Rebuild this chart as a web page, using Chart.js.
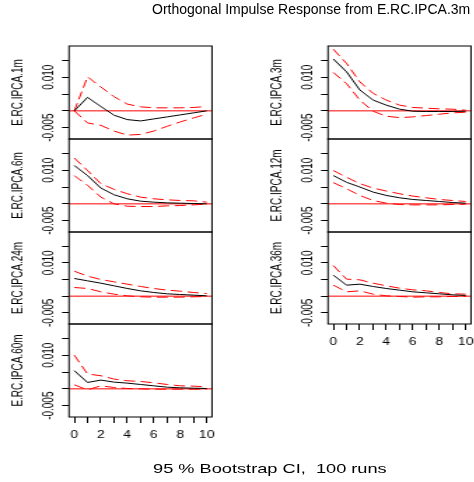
<!DOCTYPE html>
<html><head><meta charset="utf-8">
<script src="https://cdn.jsdelivr.net/npm/chart.js@4/dist/chart.umd.min.js"></script>
<style>
html,body{margin:0;padding:0;background:#fff;width:474px;height:482px;overflow:hidden;}
#stage{position:absolute;left:0;top:0;width:338.57px;height:482px;transform:scaleX(1.4);transform-origin:0 0;}
#stage canvas{position:absolute;}
#title{position:absolute;left:152px;top:2px;font-family:"Liberation Sans",Arial,sans-serif;font-size:14px;line-height:14px;white-space:pre;color:#000;}
#sub{position:absolute;left:109.3px;top:461.7px;font-family:"Liberation Sans",Arial,sans-serif;font-size:13px;line-height:13px;white-space:pre;color:#000;}
</style></head>
<body>
<div id="stage">
<canvas id="c1m"></canvas><canvas id="c6m"></canvas><canvas id="c24m"></canvas><canvas id="c60m"></canvas>
<canvas id="c3m"></canvas><canvas id="c12m"></canvas><canvas id="c36m"></canvas>
<div id="sub">95 % Bootstrap CI,  100 runs</div>
</div>
<div id="title">Orthogonal Impulse Response from E.RC.IPCA.3m</div>
<script>
// ---- data ----
const horizons = [0,1,2,3,4,5,6,7,8,9,10];
const xTickValues = [0,1,2,3,4,5,6,7,8,9,10];
const xTickLabels = ['0','','2','','4','','6','','8','','10'];
const yTickValues = [-0.005,0,0.005,0.010,0.015];
const yTickLabels = ['-0.005','','','0.010',''];

const irf_1m   = [0, 0.0040, 0.0013, -0.0013, -0.0026, -0.0030, -0.0024, -0.0018, -0.0012, -0.0006, 0.0000];
const upper_1m = [0, 0.0101, 0.0071, 0.0042, 0.0020, 0.0012, 0.0009, 0.0009, 0.0009, 0.0010, 0.0013];
const lower_1m = [0, -0.0036, -0.0043, -0.0060, -0.0072, -0.0070, -0.0060, -0.0046, -0.0033, -0.0021, -0.0010];

const irf_3m   = [0.0154, 0.0116, 0.0062, 0.0032, 0.0017, 0.0005, -0.0001, -0.0002, -0.0002, -0.0002, -0.0001];
const upper_3m = [0.0183, 0.0141, 0.0086, 0.0052, 0.0032, 0.0017, 0.0010, 0.0008, 0.0006, 0.0005, 0.0002];
const lower_3m = [0.0114, 0.0081, 0.0032, -0.0001, -0.0016, -0.0020, -0.0018, -0.0014, -0.0010, -0.0006, -0.0004];

const irf_6m   = [0.0114, 0.0084, 0.0047, 0.0027, 0.0015, 0.0008, 0.0005, 0.0003, 0.0002, 0.0001, 0.0000];
const upper_6m = [0.0136, 0.0099, 0.0060, 0.0043, 0.0030, 0.0020, 0.0015, 0.0012, 0.0010, 0.0009, 0.0005];
const lower_6m = [0.0084, 0.0055, 0.0020, 0.0000, -0.0007, -0.0008, -0.0008, -0.0006, -0.0005, -0.0003, -0.0001];

const irf_12m   = [0.0084, 0.0064, 0.0050, 0.0035, 0.0025, 0.0018, 0.0013, 0.0010, 0.0007, 0.0004, 0.0002];
const upper_12m = [0.0099, 0.0079, 0.0060, 0.0047, 0.0038, 0.0030, 0.0023, 0.0018, 0.0013, 0.0010, 0.0007];
const lower_12m = [0.0063, 0.0045, 0.0025, 0.0010, 0.0002, -0.0002, -0.0003, -0.0003, -0.0003, -0.0002, -0.0001];

const irf_24m   = [0.0053, 0.0046, 0.0039, 0.0031, 0.0023, 0.0016, 0.0011, 0.0007, 0.0005, 0.0003, 0.0001];
const upper_24m = [0.0075, 0.0060, 0.0050, 0.0043, 0.0036, 0.0029, 0.0023, 0.0018, 0.0015, 0.0011, 0.0008];
const lower_24m = [0.0026, 0.0023, 0.0013, 0.0006, 0.0001, -0.0002, -0.0003, -0.0003, -0.0003, -0.0002, -0.0001];

const irf_36m   = [0.0063, 0.0033, 0.0036, 0.0029, 0.0023, 0.0018, 0.0013, 0.0010, 0.0007, 0.0004, 0.0002];
const upper_36m = [0.0092, 0.0051, 0.0049, 0.0039, 0.0031, 0.0024, 0.0019, 0.0016, 0.0011, 0.0007, 0.0006];
const lower_36m = [0.0033, 0.0013, 0.0016, 0.0006, 0.0001, -0.0001, -0.0003, -0.0002, -0.0002, -0.0001, -0.0001];

const irf_60m   = [0.0054, 0.0019, 0.0026, 0.0020, 0.0017, 0.0013, 0.0009, 0.0005, 0.0003, 0.0002, 0.0001];
const upper_60m = [0.0100, 0.0044, 0.0039, 0.0029, 0.0024, 0.0022, 0.0018, 0.0013, 0.0009, 0.0008, 0.0006];
const lower_60m = [0.0012, -0.0003, 0.0009, 0.0004, 0.0001, 0.0000, -0.0001, -0.0001, -0.0001, -0.0001, -0.0001];

// ---- drawing ----
const FONT = '"Liberation Sans", Arial, sans-serif';
Chart.defaults.font.family = FONT;
Chart.defaults.color = '#000';

const framePlugin = {
  id: 'frame',
  beforeDatasetsDraw(chart) {
    const ctx = chart.ctx, a = chart.chartArea;
    const y = chart.scales.y.getPixelForValue(0);
    ctx.save();
    ctx.strokeStyle = '#ff0000'; ctx.lineWidth = 1;
    ctx.beginPath(); ctx.moveTo(a.left, y); ctx.lineTo(a.right, y); ctx.stroke();
    ctx.restore();
  },
  afterDatasetsDraw(chart) {
    const ctx = chart.ctx, a = chart.chartArea;
    ctx.save();
    ctx.strokeStyle = '#000'; ctx.lineWidth = 1;
    ctx.strokeRect(a.left, a.top, a.right - a.left, a.bottom - a.top);
    ctx.restore();
  }
};

function pts(arr) { return arr.map((v, i) => ({x: horizons[i], y: v})); }

function panel(id, name, irf, lo, hi, col, top, h, bottom) {
  const cv = document.getElementById(id);
  const left = col === 0 ? 0 : 185;
  const w = col === 0 ? 156 : 154;
  const padR = col === 0 ? 4.57 : 2.57;
  const padT = 8;
  const xH = 30;
  const ch = bottom ? h + padT + xH : h + padT * 2;
  cv.width = w; cv.height = ch;
  cv.style.left = left + 'px'; cv.style.top = (top - padT) + 'px';
  cv.style.width = w + 'px'; cv.style.height = ch + 'px';
  new Chart(cv, {
    type: 'line',
    data: {
      datasets: [
        {data: pts(irf), borderColor: '#000', borderWidth: 1, pointRadius: 0, tension: 0, order: 1},
        {data: pts(hi), borderColor: '#ff0000', borderWidth: 1, borderDash: [8, 4], pointRadius: 0, tension: 0, order: 2},
        {data: pts(lo), borderColor: '#ff0000', borderWidth: 1, borderDash: [8, 4], pointRadius: 0, tension: 0, order: 3}
      ]
    },
    options: {
      responsive: false, animation: false, devicePixelRatio: 1,
      layout: {padding: {left: 0, right: padR, top: padT, bottom: bottom ? 0 : padT}},
      plugins: {legend: {display: false}, tooltip: {enabled: false}},
      scales: {
        x: {
          type: 'linear', min: -0.4, max: 10.4, display: bottom,
          afterBuildTicks: s => { s.ticks = xTickValues.map(v => ({value: v})); },
          afterFit: s => { s.height = bottom ? xH : 0; s.paddingLeft = 0; s.paddingRight = 0; },
          ticks: {autoSkip: false, maxRotation: 0, minRotation: 0, padding: 6, font: {size: 10},
                  callback: (v) => { const k = xTickValues.indexOf(v); return k >= 0 ? xTickLabels[k] : ''; }},
          grid: {display: true, drawOnChartArea: false, drawTicks: true, tickLength: 6, color: '#000', lineWidth: 1},
          border: {display: false}
        },
        y: {
          type: 'linear', min: -0.00836, max: 0.01926,
          afterBuildTicks: s => { s.ticks = yTickValues.map(v => ({value: v})); },
          afterFit: s => { s.width = 49.29; s.paddingTop = 0; s.paddingBottom = 0; },
          ticks: {autoSkip: false, minRotation: 90, maxRotation: 90, crossAlign: 'center', padding: -5, font: {size: 10},
                  callback: (v) => { const k = yTickValues.findIndex(t => Math.abs(t - v) < 1e-9); return k >= 0 ? yTickLabels[k] : ''; }},
          grid: {display: true, drawOnChartArea: false, drawTicks: true, tickLength: 5, color: '#000', lineWidth: 1},
          border: {display: false},
          title: {display: true, text: name, font: {size: 10}, color: '#000', padding: {top: 7, bottom: 0}}
        }
      }
    },
    plugins: [framePlugin]
  });
}

panel('c1m',  'E.RC.IPCA.1m',  irf_1m,  lower_1m,  upper_1m,  0, 46, 93, false);
panel('c6m',  'E.RC.IPCA.6m',  irf_6m,  lower_6m,  upper_6m,  0, 139, 93, false);
panel('c24m', 'E.RC.IPCA.24m', irf_24m, lower_24m, upper_24m, 0, 232, 92, false);
panel('c60m', 'E.RC.IPCA.60m', irf_60m, lower_60m, upper_60m, 0, 324, 93, true);
panel('c3m',  'E.RC.IPCA.3m',  irf_3m,  lower_3m,  upper_3m,  1, 46, 93, false);
panel('c12m', 'E.RC.IPCA.12m', irf_12m, lower_12m, upper_12m, 1, 139, 93, false);
panel('c36m', 'E.RC.IPCA.36m', irf_36m, lower_36m, upper_36m, 1, 232, 92, true);
</script>
</body></html>
